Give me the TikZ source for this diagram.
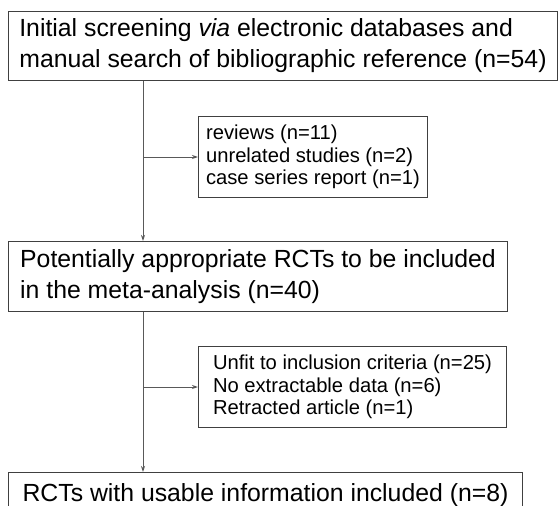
\documentclass[tikz,border=0pt]{standalone}
\usepackage{fontspec}
\setmainfont{Liberation Sans}
\usetikzlibrary{positioning,arrows.meta}

\begin{document}
\begin{tikzpicture}[x=1pt,y=-1pt,>={Stealth[length=6pt,width=4pt]},
  mainbox/.style={draw=black!75, line width=1pt, anchor=north west, align=left,
    inner xsep=2pt, font=\fontsize{24.8}{31}\selectfont},
  sidebox/.style={draw=black!75, line width=1pt, align=left, minimum height=81pt,
    inner xsep=2pt, font=\fontsize{20.2}{22.5}\selectfont},
  flow/.style={draw=black!65, line width=1pt}]
  \useasboundingbox (0,0) rectangle (558,506);

  \node[mainbox, minimum width=549pt, minimum height=69pt] (screen) at (8,11)
    {Initial screening \textit{via} electronic databases and\\
     manual search of bibliographic reference (n=54)};
  \node[mainbox, minimum width=499pt, minimum height=70pt] (potential) at (8,241)
    {Potentially appropriate RCTs to be included\\
     in the meta-analysis (n=40)};
  \node[mainbox, minimum width=514pt, minimum height=46pt] (usable) at (8,472)
    {RCTs with usable information included (n=8)};

  \coordinate (j1) at (143,157);
  \coordinate (j2) at (143,387);

  \node[sidebox, minimum width=229pt] (excl1) [right=55pt of j1]
    {reviews (n=11)\\ unrelated studies (n=2)\\ case series report (n=1)};
  \node[sidebox, minimum width=308pt] (excl2) [right=55pt of j2]
    {Unfit to inclusion criteria (n=25)\\ No extractable data (n=6)\\ Retracted article (n=1)};

  \draw[flow,->] (screen.south -| j1) -- (potential.north -| j1);
  \draw[flow,->] (j1) -- (excl1);
  \draw[flow,->] (potential.south -| j2) -- (usable.north -| j2);
  \draw[flow,->] (j2) -- (excl2);
\end{tikzpicture}
\end{document}
